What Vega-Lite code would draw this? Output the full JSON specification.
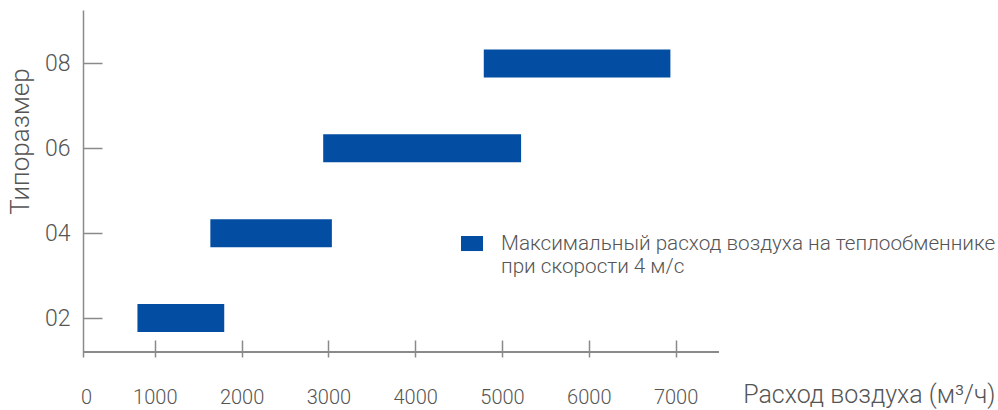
{
  "$schema": "https://vega.github.io/schema/vega-lite/v6.json",
  "width": 651,
  "height": 347,
  "autosize": "none",
  "padding": {"left": 68, "top": 10, "right": 279, "bottom": 53},
  "config": {
    "view": {"stroke": null},
    "font": "Roboto",
    "axis": {"labelFont": "Roboto", "titleFont": "Roboto", "labelFontWeight": 300, "titleFontWeight": 300, "labelColor": "#555555", "titleColor": "#555555", "domainColor": "#8a8a8a", "tickColor": "#8a8a8a", "domainWidth": 1.5, "tickWidth": 1.5, "grid": false}
  },
  "data": {
    "values": [
      {"size": 2, "from": 800, "to": 1800, "series": "Максимальный расход воздуха на теплообменнике\nпри скорости 4 м/с"},
      {"size": 4, "from": 1640, "to": 3040, "series": "Максимальный расход воздуха на теплообменнике\nпри скорости 4 м/с"},
      {"size": 6, "from": 2940, "to": 5220, "series": "Максимальный расход воздуха на теплообменнике\nпри скорости 4 м/с"},
      {"size": 8, "from": 4790, "to": 6940, "series": "Максимальный расход воздуха на теплообменнике\nпри скорости 4 м/с"}
    ]
  },
  "layer": [
    {
      "mark": {"type": "bar", "size": 28},
      "encoding": {
        "x": {
          "field": "from", "type": "quantitative",
          "scale": {"domain": [0, 7500], "nice": false, "zero": false},
          "axis": {
            "values": [0, 1000, 2000, 3000, 4000, 5000, 6000, 7000],
            "format": "d",
            "domain": false,
            "tickSize": -17,
            "labelPadding": 47,
            "labelFontSize": 20,
            "labelFlush": false,
            "labelOverlap": false,
            "labelOffset": {"condition": {"test": "datum.value == 0", "value": 18}, "value": 0},
            "tickOpacity": {"condition": {"test": "datum.value == 0", "value": 0}, "value": 1},
            "title": "Расход воздуха (м³/ч)",
            "titleFontSize": 25,
            "titleAnchor": "end",
            "titleAlign": "right",
            "titleBaseline": "alphabetic",
            "titleX": 927,
            "titleY": 45
          }
        },
        "x2": {"field": "to"},
        "y": {
          "field": "size", "type": "quantitative",
          "scale": {"domain": [1.2, 9.14], "nice": false, "zero": false},
          "axis": {
            "values": [2, 4, 6, 8],
            "format": "02d",
            "offset": -15,
            "tickSize": -19,
            "labelPadding": 32,
            "labelFontSize": 23,
            "title": "Типоразмер",
            "titleFontSize": 26,
            "titleAngle": 270,
            "titleAlign": "center",
            "titleBaseline": "middle",
            "titleX": -63,
            "titleY": 131
          }
        },
        "color": {
          "field": "series", "type": "nominal",
          "scale": {"range": ["#034ea2"]},
          "legend": {
            "title": null,
            "orient": "none",
            "legendX": 393,
            "legendY": 223,
            "padding": 0,
            "symbolType": "M-1,-0.73H1V0.64H-1Z",
            "symbolSize": 484,
            "symbolStrokeWidth": 0,
            "symbolOpacity": 1,
            "labelOffset": 18,
            "labelFont": "Roboto",
            "labelFontWeight": 300,
            "labelFontSize": 20.7,
            "labelColor": "#555555",
            "labelLimit": 800,
            "labelBaseline": "middle",
            "labelExpr": "split(datum.label, '\\n')"
          }
        }
      }
    },
    {
      "mark": {"type": "rule", "color": "#8a8a8a", "strokeWidth": 1.5},
      "encoding": {
        "x": {"datum": 173},
        "x2": {"datum": 7500},
        "y": {"datum": 1.2}
      }
    }
  ]
}
